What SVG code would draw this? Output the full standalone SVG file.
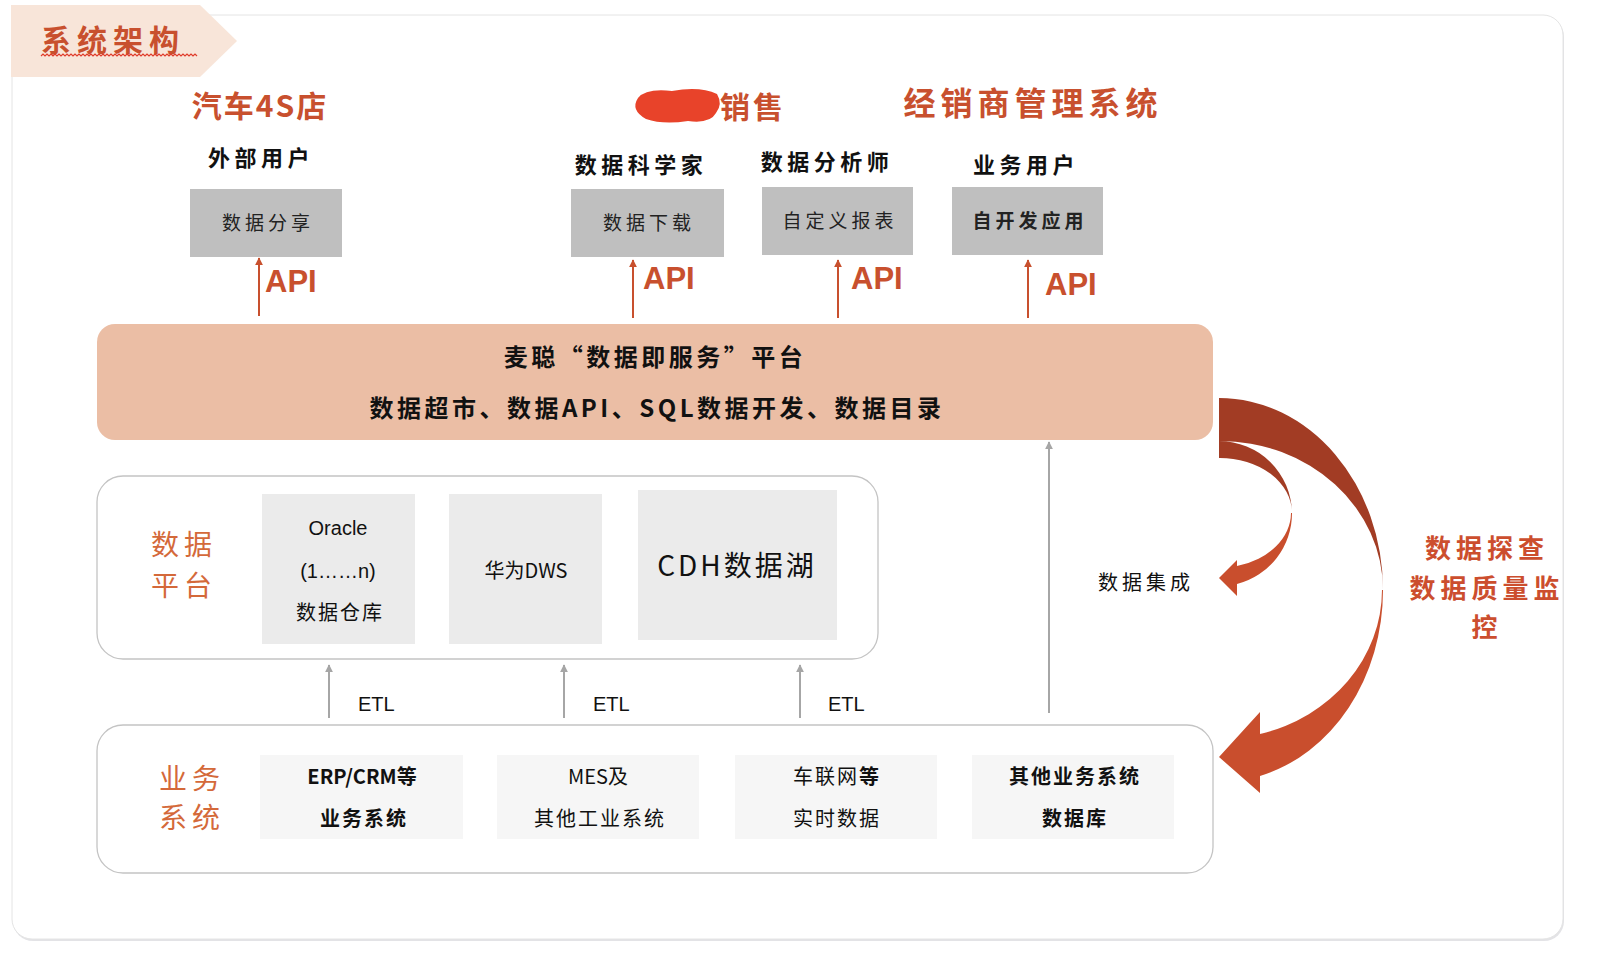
<svg xmlns="http://www.w3.org/2000/svg" width="1598" height="958" viewBox="0 0 1598 958">
<style>
.cjk{font-family:"Noto Sans CJK SC","Noto Sans",sans-serif}
.title{font-family:"Noto Sans CJK SC",sans-serif;font-weight:bold;fill:#c8502e}
.lbl{font-family:"Noto Sans CJK SC",sans-serif;font-weight:bold;font-size:22px;fill:#111;letter-spacing:4.5px}
.gbox{fill:#bfbfbf}
.btxt{font-family:"Noto Sans CJK SC",sans-serif;font-size:19px;fill:#222;letter-spacing:4px}
.api{font-family:"Liberation Sans",Arial,sans-serif;font-weight:bold;font-size:31px;fill:#c8502e}
.ptxt{font-family:"Noto Sans CJK SC",sans-serif;font-weight:bold;font-size:24px;fill:#111;letter-spacing:3.5px}
.cont{fill:#fff;stroke:#c4c4c4;stroke-width:1.3}
.side{font-family:"Noto Sans CJK SC",sans-serif;font-size:28px;fill:#d4693a;letter-spacing:5px}
.lbox{fill:#ebebeb}
.sbox{fill:#f6f6f6}
.t20{font-family:"Noto Sans CJK SC",sans-serif;font-size:20px;fill:#111}
.b20{font-family:"Noto Sans CJK SC",sans-serif;font-size:20px;font-weight:bold;fill:#111}
.etl{font-family:"Liberation Sans",Arial,sans-serif;font-size:20px;fill:#111}
.apiline{stroke:#c8502e;stroke-width:2;fill:none}
.gline{stroke:#a6a6a6;stroke-width:2;fill:none}
.dark{fill:#a23c24}
.light{fill:#c94e2d}
.rtxt{font-family:"Noto Sans CJK SC",sans-serif;font-weight:bold;font-size:26px;fill:#cc4e2e;letter-spacing:5px}
</style>
<defs>
<marker id="ao" viewBox="0 0 10 10" refX="9" refY="5" markerWidth="4" markerHeight="4" orient="auto"><path d="M0,0 L10,5 L0,10 Z" fill="#c8502e"/></marker>
<marker id="ag" viewBox="0 0 10 10" refX="9" refY="5" markerWidth="4" markerHeight="4" orient="auto"><path d="M0,0 L10,5 L0,10 Z" fill="#a6a6a6"/></marker>
</defs>
<rect width="1598" height="958" fill="#fff"/>
<!-- frame -->
<rect x="13" y="17" width="1551" height="924" rx="20" fill="#d0d0d6" opacity="0.6"/>
<rect x="12" y="15" width="1551" height="924" rx="20" fill="#fff" stroke="#e4e4e4" stroke-width="1"/>
<!-- title tab -->
<g id="title-tab">
<polygon points="11,5 200,5 237,41 200,77 11,77" fill="#f8e5d9"/>
<text x="41" y="51" class="title" font-size="30" style="letter-spacing:6px">系统架构</text>
<path d="M41,56 l2,-2 l2,2 l2,-2 l2,2 l2,-2 l2,2 l2,-2 l2,2 l2,-2 l2,2 l2,-2 l2,2 l2,-2 l2,2 l2,-2 l2,2 l2,-2 l2,2 l2,-2 l2,2 l2,-2 l2,2 l2,-2 l2,2 l2,-2 l2,2 l2,-2 l2,2 l2,-2 l2,2 l2,-2 l2,2 l2,-2 l2,2 l2,-2 l2,2 l2,-2 l2,2 l2,-2 l2,2 l2,-2 l2,2 l2,-2 l2,2 l2,-2 l2,2 l2,-2 l2,2 l2,-2 l2,2 l2,-2 l2,2 l2,-2 l2,2 l2,-2 l2,2 l2,-2 l2,2 l2,-2 l2,2 l2,-2 l2,2 l2,-2 l2,2 l2,-2 l2,2 l2,-2 l2,2 l2,-2 l2,2 l2,-2 l2,2 l2,-2 l2,2 l2,-2 l2,2 l2,-2 l2,2" fill="none" stroke="#e03b2a" stroke-width="1.2"/>
</g>
<!-- top titles -->
<g id="group-4s">
<text x="260" y="117" class="title" font-size="30" text-anchor="middle" style="letter-spacing:2px">汽车4S店</text>
<text x="261" y="166" class="lbl" text-anchor="middle">外部用户</text>
</g>
<g id="group-sales">
<path d="M638,98 Q646,88 672,91 Q700,86 717,94 Q723,104 716,113 Q710,124 688,121 Q663,125 646,119 Q630,110 638,98 Z" fill="#e8432a"/>
<text x="720" y="118" class="title" font-size="30" style="letter-spacing:3px">销售</text>
</g>
<g id="group-dms">
<text x="1033" y="115" class="title" font-size="32" text-anchor="middle" style="letter-spacing:5px">经销商管理系统</text>
</g>
<g id="user-scientist"><text x="641" y="173" class="lbl" text-anchor="middle">数据科学家</text></g>
<g id="user-analyst"><text x="827" y="170" class="lbl" text-anchor="middle">数据分析师</text></g>
<g id="user-business"><text x="1026" y="173" class="lbl" text-anchor="middle">业务用户</text></g>
<!-- grey boxes -->
<g id="box-share"><rect x="190" y="189" width="152" height="68" class="gbox"/><text x="268" y="230" class="btxt" text-anchor="middle">数据分享</text></g>
<g id="box-download"><rect x="571" y="189" width="153" height="68" class="gbox"/><text x="649" y="230" class="btxt" text-anchor="middle">数据下载</text></g>
<g id="box-report"><rect x="762" y="187" width="151" height="68" class="gbox"/><text x="840" y="228" class="btxt" text-anchor="middle">自定义报表</text></g>
<g id="box-app"><rect x="952" y="187" width="151" height="68" class="gbox"/><text x="1030" y="228" class="btxt" text-anchor="middle" font-weight="bold">自开发应用</text></g>
<!-- platform -->
<g id="platform">
<rect x="97" y="324" width="1116" height="116" rx="18" fill="#ebbea5"/>
<text x="655" y="366" class="ptxt" text-anchor="middle">麦聪“数据即服务”平台</text>
<text x="657" y="417" class="ptxt" text-anchor="middle">数据超市、数据API、SQL数据开发、数据目录</text>
</g>
<!-- data platform -->
<g id="data-platform">
<rect x="97" y="476" width="781" height="183" rx="26" class="cont"/>
<text x="184" y="555" class="side" text-anchor="middle">数据</text>
<text x="184" y="596" class="side" text-anchor="middle">平台</text>
</g>
<g id="dp-oracle"><rect x="262" y="494" width="153" height="150" class="lbox"/>
<text x="338" y="535" class="etl" text-anchor="middle">Oracle</text>
<text x="338" y="578" class="etl" text-anchor="middle">(1……n)</text>
<text x="340" y="620" class="t20" text-anchor="middle" style="letter-spacing:2px">数据仓库</text></g>
<g id="dp-dws"><rect x="449" y="494" width="153" height="150" class="lbox"/>
<text x="526" y="578" class="t20" text-anchor="middle">华为DWS</text></g>
<g id="dp-cdh"><rect x="638" y="490" width="199" height="150" class="lbox"/>
<text x="737" y="576" class="cjk" font-size="28" fill="#111" text-anchor="middle" style="letter-spacing:3px">CDH数据湖</text></g>
<!-- business systems -->
<g id="business-systems">
<rect x="97" y="725" width="1116" height="148" rx="26" class="cont"/>
<text x="192" y="789" class="side" text-anchor="middle">业务</text>
<text x="192" y="828" class="side" text-anchor="middle">系统</text>
</g>
<g id="bs-erp"><rect x="260" y="755" width="203" height="84" class="sbox"/>
<text x="362" y="784" class="b20" text-anchor="middle">ERP/CRM等</text>
<text x="364" y="826" class="b20" text-anchor="middle" style="letter-spacing:2px">业务系统</text></g>
<g id="bs-mes"><rect x="497" y="755" width="202" height="84" class="sbox"/>
<text x="598" y="784" class="t20" text-anchor="middle">MES及</text>
<text x="600" y="826" class="t20" text-anchor="middle" style="letter-spacing:2px">其他工业系统</text></g>
<g id="bs-iov"><rect x="735" y="755" width="202" height="84" class="sbox"/>
<text x="837" y="784" class="t20" text-anchor="middle" style="letter-spacing:2px">车联网<tspan font-weight="bold">等</tspan></text>
<text x="837" y="826" class="t20" text-anchor="middle" style="letter-spacing:2px">实时数据</text></g>
<g id="bs-other"><rect x="972" y="755" width="202" height="84" class="sbox"/>
<text x="1075" y="784" class="b20" text-anchor="middle" style="letter-spacing:2px">其他业务系统</text>
<text x="1075" y="826" class="b20" text-anchor="middle" style="letter-spacing:2px">数据库</text></g>
<!-- connectors -->
<g id="connectors">
<line x1="259" y1="316" x2="259" y2="258" class="apiline" marker-end="url(#ao)"/>
<line x1="633" y1="318" x2="633" y2="260" class="apiline" marker-end="url(#ao)"/>
<line x1="838" y1="318" x2="838" y2="260" class="apiline" marker-end="url(#ao)"/>
<line x1="1028" y1="318" x2="1028" y2="260" class="apiline" marker-end="url(#ao)"/>
<text x="265" y="292" class="api">API</text>
<text x="643" y="289" class="api">API</text>
<text x="851" y="289" class="api">API</text>
<text x="1045" y="295" class="api">API</text>
<line x1="329" y1="718" x2="329" y2="665" class="gline" marker-end="url(#ag)"/>
<line x1="564" y1="718" x2="564" y2="665" class="gline" marker-end="url(#ag)"/>
<line x1="800" y1="718" x2="800" y2="665" class="gline" marker-end="url(#ag)"/>
<text x="358" y="711" class="etl">ETL</text>
<text x="593" y="711" class="etl">ETL</text>
<text x="828" y="711" class="etl">ETL</text>
<line x1="1049" y1="713" x2="1049" y2="442" class="gline" marker-end="url(#ag)"/>
<text x="1146" y="590" class="t20" text-anchor="middle" style="letter-spacing:4px">数据集成</text>
<!-- big curved arrow -->
<path class="dark" d="M1219,398 A164,192 0 0 1 1383,590 A163,149 0 0 0 1219,441 Z"/>
<path class="light" d="M1383,590 A164,192 0 0 1 1260,776 L1260,793 L1219,757 L1260,712 L1260,734 A163,149 0 0 0 1382,590 Z"/>
<!-- small curved arrow -->
<path class="dark" d="M1219,441 A73,73 0 0 1 1292,513 A72,55 0 0 0 1219,458 Z"/>
<path class="light" d="M1292,513 A73,73 0 0 1 1237,584 L1237,596 L1219,578 L1237,560 L1237,566 A72,55 0 0 0 1291,513 Z"/>
</g>
<g id="quality-label">
<text x="1487" y="558" class="rtxt" text-anchor="middle">数据探查</text>
<text x="1487" y="598" class="rtxt" text-anchor="middle">数据质量监</text>
<text x="1487" y="637" class="rtxt" text-anchor="middle">控</text>
</g>
</svg>
